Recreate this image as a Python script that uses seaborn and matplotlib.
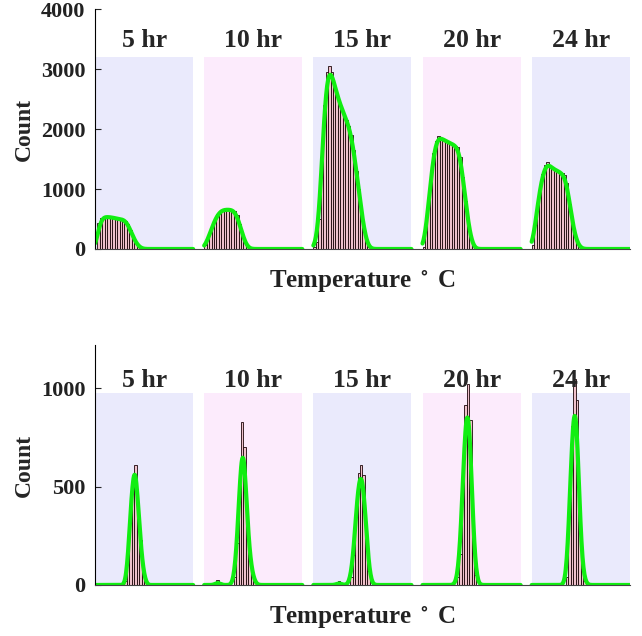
import numpy as np
import pandas as pd
import seaborn as sns
import matplotlib.pyplot as plt

# segment labels
hours = ['5 hr', '10 hr', '15 hr', '20 hr', '24 hr']

# upper panel: first bin index and bin counts of each segment
top_start = [1, 0, 0, 0, 0]
top_counts = [
    [430, 520, 540, 530, 540, 520, 530, 500, 510, 490, 500, 470, 420, 310, 200, 110, 50, 15],
    [60, 150, 280, 400, 500, 580, 630, 650, 660, 650, 660, 650, 640, 560, 420, 250, 110, 30],
    [40, 120, 500, 1500, 2400, 2950, 3050, 2950, 2750, 2600, 2450, 2350, 2250, 2150, 2050,
     1900, 1650, 1300, 1000, 650, 350, 120, 30],
    [40, 300, 800, 1200, 1600, 1800, 1880, 1850, 1820, 1800, 1780, 1760, 1740, 1720, 1700,
     1540, 1200, 800, 450, 200, 50],
    [60, 400, 780, 1050, 1250, 1400, 1450, 1380, 1340, 1320, 1300, 1280, 1260, 1230, 1100,
     750, 450, 230, 90, 30],
]

# lower panel: bin index -> count of each segment
bot_bins = [
    [12, 13, 14, 15, 16, 17, 18, 19, 20],
    [5, 12, 13, 14, 15, 16, 17, 18, 19, 20],
    [10, 15, 16, 17, 18, 19, 20, 21, 22],
    [14, 15, 16, 17, 18, 19, 20, 21],
    [14, 15, 16, 17, 18, 19, 20, 21],
]
bot_counts = [
    [20, 150, 380, 560, 610, 420, 230, 90, 25],
    [25, 40, 213, 517, 829, 702, 300, 150, 60, 15],
    [20, 40, 150, 400, 570, 610, 560, 280, 70],
    [40, 160, 550, 914, 1024, 841, 245, 50],
    [40, 420, 810, 1045, 940, 320, 80, 20],
]

NBINS = 40      # bins per segment
STEP = 44.5     # segment spacing in bin units
bg_colors = ['#eaeafc', '#fcebfc']
bar_color = '#efc2cc'
green = '#11ee11'
top_bw = [0.5, 0.55, 0.45, 0.45, 0.5]
bot_bw = [0.6, 0.75, 0.85, 1.0, 1.0]

rows = []
for i in range(5):
    for k, c in enumerate(top_counts[i]):
        rows.append({'panel': 'top', 'seg': i, 'x': i * STEP + top_start[i] + k + 0.5, 'count': c})
    for b, c in zip(bot_bins[i], bot_counts[i]):
        rows.append({'panel': 'bot', 'seg': i, 'x': i * STEP + b + 0.5, 'count': c})
df = pd.DataFrame(rows)

sns.set_style('white')
plt.rcParams['font.family'] = ['Liberation Serif', 'DejaVu Serif']
plt.rcParams['font.weight'] = 'bold'
plt.rcParams['mathtext.fontset'] = 'stix'

fig = plt.figure(figsize=(6.42, 6.36), dpi=100)
ax_top = fig.add_axes([0.148, 0.6085, 0.833, 0.3773])
ax_bot = fig.add_axes([0.148, 0.0802, 0.833, 0.3773])

settings = {
    'top': dict(ax=ax_top, ylim=4000, bg=3200, title_y=3480, ticks=[0, 1000, 2000, 3000, 4000], bw=top_bw),
    'bot': dict(ax=ax_bot, ylim=1220, bg=975, title_y=1040, ticks=[0, 500, 1000], bw=bot_bw),
}

for panel, s in settings.items():
    ax = s['ax']
    for i in range(5):
        x0 = i * STEP
        ax.axvspan(x0, x0 + NBINS, ymin=0, ymax=s['bg'] / s['ylim'],
                   facecolor=bg_colors[i % 2], edgecolor='none', zorder=0)
        sub = df[(df.panel == panel) & (df.seg == i)]
        sns.histplot(data=sub, x='x', weights='count', binwidth=1, binrange=(x0, x0 + NBINS),
                     kde=True, kde_kws={'bw_adjust': s['bw'][i], 'cut': 60, 'clip': (x0, x0 + NBINS)},
                     color=bar_color, alpha=1, edgecolor='#1a0508', linewidth=0.6,
                     line_kws={'lw': 3}, ax=ax)
        ax.lines[-1].set_color(green)
        ax.text(x0 + NBINS / 2, s['title_y'], hours[i], ha='center', va='center',
                fontsize=18.5, fontweight='bold')
    ax.set_xlim(0, 4 * STEP + NBINS)
    ax.set_ylim(0, s['ylim'])
    ax.set_yticks(s['ticks'])
    ax.set_xticks([])
    ax.tick_params(axis='y', direction='in', length=4, labelsize=16, left=True, pad=7)
    for lab in ax.get_yticklabels():
        lab.set_fontweight('bold')
        lab.set_color('#222222')
    ax.set_ylabel('Count', fontsize=17, fontweight='bold', labelpad=4)
    ax.set_xlabel(r'Temperature $^\circ$ C', fontsize=18, fontweight='bold', labelpad=14, color='#222222')
    sns.despine(ax=ax)
    ax.spines['left'].set_color('black')
    ax.spines['bottom'].set_color('#444444')

fig.savefig('out.png', dpi=100)
